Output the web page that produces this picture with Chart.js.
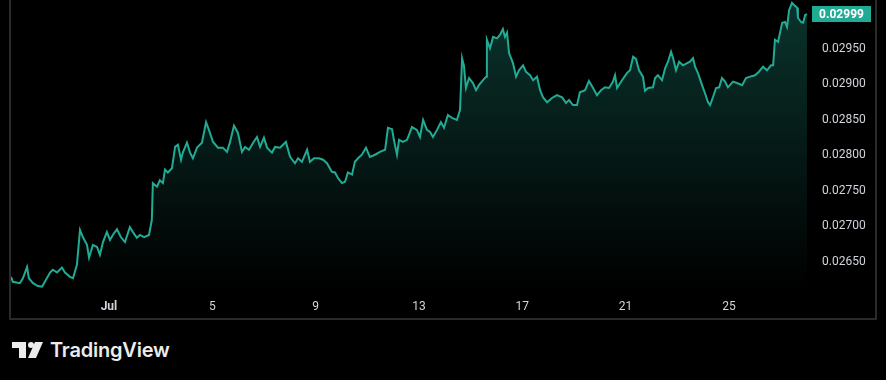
<!DOCTYPE html>
<html>
<head>
<meta charset="utf-8">
<script src="https://cdn.jsdelivr.net/npm/chart.js@4"></script>
<style>
  html, body { margin: 0; padding: 0; background: #000; }
  #wrap { position: relative; width: 886px; height: 380px; overflow: hidden; }
  #box { position: absolute; left: 0; top: 0; width: 886px; height: 320px; }
  #logo { position: absolute; left: 12px; top: 338px; display: flex; align-items: center; }
  #logo span { font-family: Inter, "Noto Sans", sans-serif; font-weight: 600; font-size: 20px; color: #ececec; margin-left: 7px; letter-spacing: -0.2px; }
</style>
</head>
<body>
<div id="wrap">
  <div id="box"><canvas id="chart"></canvas></div>
  <div id="logo">
    <svg width="31" height="16" viewBox="0 0 31 16">
      <path d="M0 0 H14 V16 H7 V6 H0 Z" fill="#ececec"/>
      <circle cx="19" cy="3" r="3" fill="#ececec"/>
      <path d="M23 0 H31 L24 16 H16 Z" fill="#ececec"/>
    </svg>
    <span>TradingView</span>
  </div>
</div>
<script>
// time in days (1 = Jul 1), price
const days = [
  -2.79, -2.72, -2.45, -2.33, -2.17, -2.10, -1.94, -1.75, -1.59, -1.48,
  -1.28, -1.17, -1.01, -0.82, -0.70, -0.51, -0.39, -0.24, -0.12, -0.01,
  0.15, 0.23, 0.38, 0.54, 0.65, 0.77, 0.92, 1.04, 1.15, 1.31,
  1.46, 1.62, 1.81, 1.93, 2.08, 2.20, 2.36, 2.55, 2.66, 2.70,
  2.86, 2.97, 3.09, 3.17, 3.28, 3.44, 3.56, 3.67, 3.79, 3.86,
  4.02, 4.14, 4.25, 4.41, 4.60, 4.76, 4.87, 5.03, 5.22, 5.41,
  5.57, 5.68, 5.84, 5.99, 6.15, 6.27, 6.42, 6.58, 6.73, 6.85,
  7.00, 7.12, 7.31, 7.43, 7.62, 7.85, 8.01, 8.20, 8.32, 8.47,
  8.67, 8.78, 8.94, 9.13, 9.29, 9.44, 9.63, 9.75, 9.87, 10.02,
  10.14, 10.25, 10.41, 10.52, 10.64, 10.79, 10.95, 11.10, 11.30, 11.49,
  11.69, 11.80, 11.96, 12.03, 12.15, 12.23, 12.38, 12.54, 12.73, 12.92,
  13.04, 13.16, 13.31, 13.43, 13.54, 13.70, 13.85, 13.97, 14.12, 14.28,
  14.47, 14.59, 14.67, 14.74, 14.82, 14.94, 15.09, 15.21, 15.32, 15.48,
  15.60, 15.63, 15.75, 15.87, 16.02, 16.14, 16.25, 16.33, 16.41, 16.49,
  16.64, 16.76, 16.87, 17.03, 17.14, 17.30, 17.42, 17.57, 17.69, 17.80,
  17.96, 18.15, 18.34, 18.54, 18.69, 18.81, 18.96, 19.12, 19.23, 19.43,
  19.58, 19.74, 19.89, 20.05, 20.20, 20.36, 20.51, 20.59, 20.67, 20.86,
  21.05, 21.17, 21.29, 21.40, 21.52, 21.67, 21.75, 21.87, 22.06, 22.14,
  22.25, 22.41, 22.53, 22.64, 22.76, 22.84, 22.95, 23.07, 23.22, 23.38,
  23.49, 23.61, 23.69, 23.80, 23.96, 24.07, 24.19, 24.27, 24.38, 24.50,
  24.62, 24.73, 24.85, 24.96, 25.16, 25.31, 25.51, 25.66, 25.82, 26.01,
  26.16, 26.32, 26.47, 26.63, 26.71, 26.78, 26.90, 27.06, 27.17, 27.25,
  27.33, 27.44, 27.52, 27.64, 27.67, 27.79, 27.87, 27.95, 28.02
];
const prices = [
  0.02629, 0.02622, 0.02620, 0.02627, 0.02643, 0.02627, 0.02620, 0.02616, 0.02615, 0.02622,
  0.02635, 0.02639, 0.02635, 0.02642, 0.02635, 0.02629, 0.02627, 0.02646, 0.02695, 0.02685,
  0.02674, 0.02656, 0.02674, 0.02671, 0.02660, 0.02678, 0.02692, 0.02681, 0.02688, 0.02696,
  0.02685, 0.02678, 0.02699, 0.02692, 0.02684, 0.02688, 0.02685, 0.02688, 0.02709, 0.02761,
  0.02756, 0.02765, 0.02761, 0.02780, 0.02776, 0.02782, 0.02812, 0.02815, 0.02794, 0.02804,
  0.02818, 0.02804, 0.02796, 0.02811, 0.02818, 0.02847, 0.02836, 0.02819, 0.02811, 0.02811,
  0.02805, 0.02818, 0.02842, 0.02832, 0.02805, 0.02812, 0.02808, 0.02818, 0.02826, 0.02812,
  0.02825, 0.02811, 0.02804, 0.02812, 0.02811, 0.02819, 0.02798, 0.02789, 0.02796, 0.02791,
  0.02808, 0.02791, 0.02796, 0.02796, 0.02794, 0.02789, 0.02777, 0.02776, 0.02768, 0.02761,
  0.02763, 0.02776, 0.02773, 0.02791, 0.02796, 0.02801, 0.02811, 0.02798, 0.02801, 0.02805,
  0.02808, 0.02839, 0.02837, 0.02822, 0.02801, 0.02822, 0.02819, 0.02822, 0.02840, 0.02836,
  0.02826, 0.02850, 0.02836, 0.02833, 0.02826, 0.02836, 0.02847, 0.02839, 0.02857, 0.02853,
  0.02850, 0.02864, 0.02937, 0.02927, 0.02895, 0.02909, 0.02902, 0.02892, 0.02899, 0.02906,
  0.02911, 0.02963, 0.02951, 0.02967, 0.02965, 0.02970, 0.02978, 0.02967, 0.02973, 0.02944,
  0.02930, 0.02911, 0.02920, 0.02927, 0.02918, 0.02913, 0.02906, 0.02911, 0.02892, 0.02882,
  0.02875, 0.02881, 0.02885, 0.02882, 0.02874, 0.02878, 0.02871, 0.02871, 0.02889, 0.02892,
  0.02905, 0.02895, 0.02885, 0.02892, 0.02896, 0.02895, 0.02904, 0.02913, 0.02895, 0.02906,
  0.02916, 0.02920, 0.02939, 0.02936, 0.02920, 0.02911, 0.02891, 0.02895, 0.02896, 0.02909,
  0.02913, 0.02906, 0.02923, 0.02932, 0.02946, 0.02937, 0.02920, 0.02932, 0.02927, 0.02930,
  0.02932, 0.02937, 0.02925, 0.02916, 0.02899, 0.02888, 0.02875, 0.02871, 0.02882, 0.02895,
  0.02896, 0.02909, 0.02904, 0.02896, 0.02904, 0.02902, 0.02899, 0.02909, 0.02911, 0.02913,
  0.02918, 0.02925, 0.02920, 0.02927, 0.02927, 0.02963, 0.02960, 0.02987, 0.02988, 0.02981,
  0.03005, 0.03015, 0.03012, 0.03008, 0.02994, 0.02988, 0.02987, 0.02998, 0.02999
];
const dayTicks = [1, 5, 9, 13, 17, 21, 25];
const priceTicks = [0.0265, 0.0270, 0.0275, 0.0280, 0.0285, 0.0290, 0.0295];

const teal = '#22ab94';
const labelColor = '#d1d4dc';
const fontFamily = 'Roboto, "Liberation Sans", sans-serif';

// frame around panes + last price badge
const framePlugin = {
  id: 'frame',
  afterDraw(chart) {
    const ctx = chart.ctx;
    ctx.save();
    ctx.strokeStyle = '#2a2a2a';
    ctx.lineWidth = 2;
    ctx.beginPath();
    ctx.moveTo(10, 0);
    ctx.lineTo(10, 319);
    ctx.lineTo(876, 319);
    ctx.lineTo(876, 0);
    ctx.stroke();

    const last = prices[prices.length - 1];
    const y = chart.scales.y.getPixelForValue(last);
    ctx.fillStyle = teal;
    ctx.fillRect(812, Math.round(y) - 8, 59, 16);
    ctx.fillStyle = '#ffffff';
    ctx.font = 'bold 12px ' + fontFamily;
    ctx.textAlign = 'center';
    ctx.textBaseline = 'middle';
    ctx.fillText(last.toFixed(5), 841.5, Math.round(y) + 0.5);
    ctx.restore();
  }
};

new Chart(document.getElementById('chart'), {
  type: 'line',
  data: {
    datasets: [{
      data: days.map((d, i) => ({ x: d, y: prices[i] })),
      borderColor: teal,
      borderWidth: 2,
      pointRadius: 0,
      tension: 0,
      fill: 'start',
      backgroundColor: function(context) {
        const area = context.chart.chartArea;
        if (!area) return 'rgba(34,171,148,0.1)';
        const g = context.chart.ctx.createLinearGradient(0, area.top, 0, area.bottom);
        g.addColorStop(0, 'rgba(34,171,148,0.30)');
        g.addColorStop(1, 'rgba(34,171,148,0.0)');
        return g;
      }
    }]
  },
  options: {
    responsive: true,
    maintainAspectRatio: false,
    animation: false,
    layout: { padding: { left: 10, right: 10, top: 0, bottom: 0 } },
    plugins: { legend: { display: false }, tooltip: { enabled: false } },
    scales: {
      x: {
        type: 'linear',
        min: -2.83,
        max: 28.06,
        grid: { display: false, drawTicks: false },
        border: { display: false },
        afterBuildTicks: s => { s.ticks = dayTicks.map(v => ({ value: v })); },
        afterFit: s => { s.height = 29; s.paddingLeft = 0; s.paddingRight = 0; },
        ticks: {
          color: labelColor,
          padding: 9,
          maxRotation: 0,
          autoSkip: false,
          font: ctx => ({ family: fontFamily, size: 12, weight: ctx.tick && ctx.tick.value === 1 ? 'bold' : 'normal' }),
          callback: v => v === 1 ? 'Jul' : String(v)
        }
      },
      y: {
        position: 'right',
        min: 0.02609,
        max: 0.03019,
        grid: { display: false, drawTicks: false },
        border: { display: false },
        afterBuildTicks: s => { s.ticks = priceTicks.map(v => ({ value: v })); },
        afterFit: s => { s.width = 68; s.paddingTop = 0; s.paddingBottom = 0; },
        ticks: {
          color: labelColor,
          padding: 14,
          font: { family: fontFamily, size: 12 },
          callback: v => Number(v).toFixed(5)
        }
      }
    }
  },
  plugins: [framePlugin]
});
</script>
</body>
</html>
